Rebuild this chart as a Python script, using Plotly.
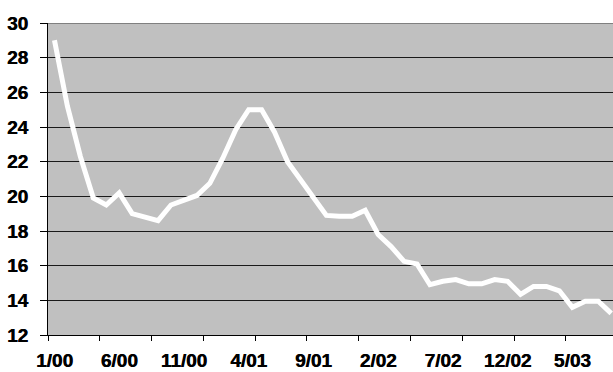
import plotly.graph_objects as go

months = ["1/00","2/00","3/00","4/00","5/00","6/00","7/00","8/00","9/00","10/00","11/00","12/00",
          "1/01","2/01","3/01","4/01","5/01","6/01","7/01","8/01","9/01","10/01","11/01","12/01",
          "1/02","2/02","3/02","4/02","5/02","6/02","7/02","8/02","9/02","10/02","11/02","12/02",
          "1/03","2/03","3/03","4/03","5/03","6/03","7/03","8/03"]
values = [29.0, 25.2, 22.3, 19.9, 19.5, 20.2, 19.0, 18.8, 18.6, 19.5, 19.75, 20.05,
          20.75, 22.2, 23.85, 25.0, 25.0, 23.7, 22.0, 21.0, 20.0, 18.9, 18.85, 18.85,
          19.2, 17.8, 17.1, 16.25, 16.1, 14.9, 15.1, 15.2, 14.95, 14.95, 15.2, 15.1,
          14.35, 14.8, 14.8, 14.55, 13.6, 13.95, 13.95, 13.25]
tick_labels = ["1/00","6/00","11/00","4/01","9/01","2/02","7/02","12/02","5/03"]
y_ticks = [12, 14, 16, 18, 20, 22, 24, 26, 28, 30]

xpos = list(range(len(months)))
tick_pos = [months.index(t) for t in tick_labels]
boundaries = [i - 0.5 for i in range(0, len(months) + 1, 4)]

fig = go.Figure()
fig.add_trace(go.Scatter(x=xpos, y=values, mode="lines",
                         line=dict(color="white", width=5), hoverinfo="skip"))

font = dict(family="Liberation Sans", size=19, color="black", weight="bold",
            shadow="0.5px 0px 0px black")

fig.update_layout(
    width=613, height=372,
    margin=dict(l=48, r=0, t=23, b=37),
    paper_bgcolor="white", plot_bgcolor="#C0C0C0",
    showlegend=False,
    xaxis=dict(range=[-0.5, 43.14], tickvals=tick_pos, ticktext=tick_labels,
               ticks="", ticklen=0, showgrid=False, zeroline=False,
               showline=True, linecolor="black", linewidth=1,
               tickfont=font, ticklabelstandoff=8, automargin=False,
               minor=dict(tickvals=boundaries, ticks="outside", ticklen=5,
                          tickcolor="black", tickwidth=1, showgrid=False)),
    yaxis=dict(range=[12, 30], tickvals=y_ticks,
               ticks="outside", ticklen=7,
               tickcolor="black", tickwidth=1,
               showgrid=True, gridcolor="#1a1a1a", gridwidth=1, zeroline=False,
               showline=True, linecolor="black", linewidth=1,
               tickfont=font, ticklabelstandoff=8, automargin=False),
    shapes=[dict(type="line", xref="paper", yref="y", x0=0, x1=1, y0=30, y1=30,
                 line=dict(color="#808080", width=2))],
)

fig.write_html("out.html", config={"displayModeBar": False},
               post_script="document.body.style.margin='0px';document.body.style.overflow='hidden';")
